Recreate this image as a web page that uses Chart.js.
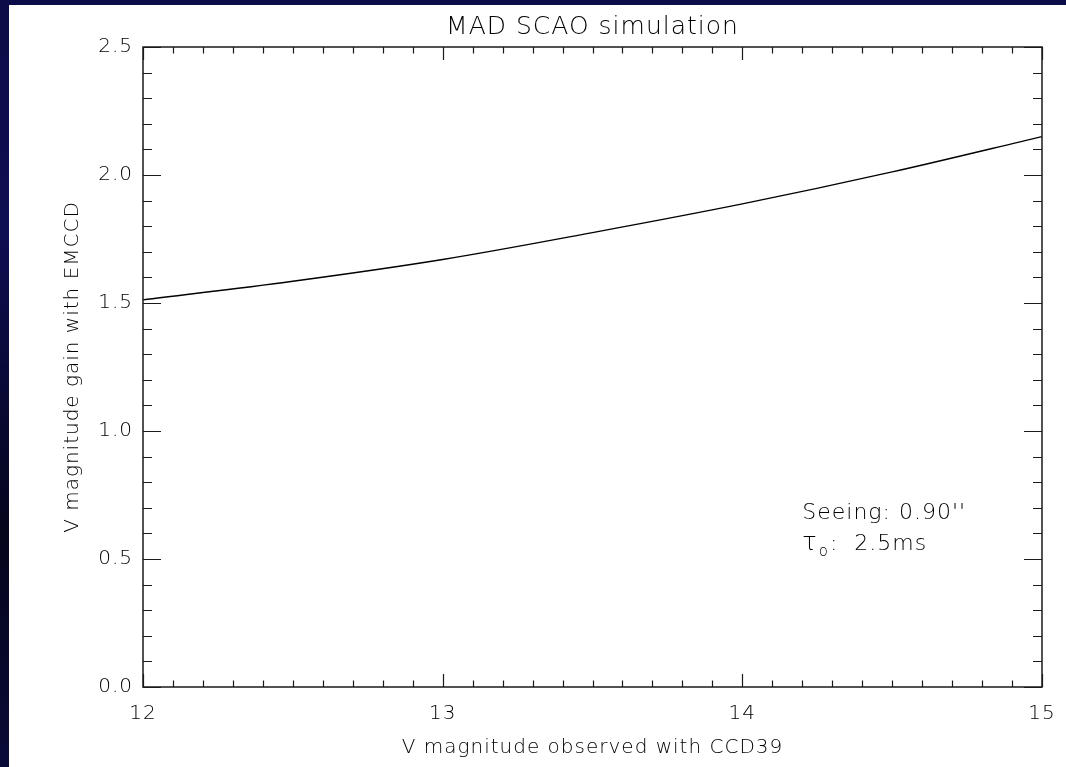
<!DOCTYPE html>
<html>
<head>
<meta charset="utf-8">
<script src="https://cdn.jsdelivr.net/npm/chart.js@4.4.1/dist/chart.umd.min.js"></script>
<style>
  html, body { margin: 0; padding: 0; }
  body {
    width: 1066px; height: 767px; position: relative; overflow: hidden;
    background: linear-gradient(to bottom, #0c0c48 0%, #0e0e52 30%, #05051c 70%, #0a0a38 100%);
  }
  #panel { position: absolute; left: 9px; top: 5px; width: 1057px; height: 762px; background: #ffffff; }
  #chart { position: absolute; left: 0; top: 0; }
</style>
</head>
<body>
<div id="panel"></div>
<canvas id="chart" width="1066" height="767"></canvas>
<script>
// Observed V magnitude with the CCD39 sensor
const magnitudes = [12.0, 12.5, 13.0, 13.5, 14.0, 14.5, 15.0];
// Gain in V magnitude obtained with the EMCCD
const gains = [1.512, 1.585, 1.670, 1.775, 1.887, 2.012, 2.150];
// Axis ranges and tick spacing
const xRange = [12, 15];
const yRange = [0, 2.5];
const xMajorStep = 1, xMinorStep = 0.1;
const yMajorStep = 0.5, yMinorStep = 0.1;
// Annotation anchors (data coordinates)
const seeingText = "Seeing: 0.90''";
const tauText = ": 2.5ms";
const notePos = { x: 14.2, y1: 0.656, y2: 0.535 };

const FONT = "'DejaVu Sans', sans-serif";
const WEIGHT = '200';
const INK = '#000000';
const SPACING = '1px';

// Wide, plotter-like lettering for every label on the canvas
const letterSpacing = {
  id: 'letterSpacing',
  beforeInit(chart) { chart.ctx.letterSpacing = SPACING; },
  beforeUpdate(chart) { chart.ctx.letterSpacing = SPACING; },
  beforeDraw(chart) { chart.ctx.letterSpacing = SPACING; }
};

// IDL-style frame: box on all four sides, inward major and minor ticks
const frameTicks = {
  id: 'frameTicks',
  afterDatasetsDraw(chart) {
    const { ctx, chartArea: a, scales: { x, y } } = chart;
    ctx.save();
    ctx.strokeStyle = '#1a1a1a';
    ctx.lineWidth = 1.5;
    ctx.strokeRect(a.left, a.top, a.right - a.left, a.bottom - a.top);
    ctx.lineWidth = 1.2;
    ctx.beginPath();
    const nx = Math.round((xRange[1] - xRange[0]) / xMinorStep);
    const perX = Math.round(xMajorStep / xMinorStep);
    for (let i = 0; i <= nx; i++) {
      const px = Math.round(x.getPixelForValue(xRange[0] + i * xMinorStep)) + 0.5;
      const len = i % perX === 0 ? 13 : 6.5;
      ctx.moveTo(px, a.bottom); ctx.lineTo(px, a.bottom - len);
      ctx.moveTo(px, a.top); ctx.lineTo(px, a.top + len);
    }
    const ny = Math.round((yRange[1] - yRange[0]) / yMinorStep);
    const perY = Math.round(yMajorStep / yMinorStep);
    for (let i = 0; i <= ny; i++) {
      const py = Math.round(y.getPixelForValue(yRange[0] + i * yMinorStep)) + 0.5;
      const len = i % perY === 0 ? 18 : 9;
      ctx.moveTo(a.left, py); ctx.lineTo(a.left + len, py);
      ctx.moveTo(a.right, py); ctx.lineTo(a.right - len, py);
    }
    ctx.stroke();

    // Observing conditions note
    ctx.fillStyle = INK;
    ctx.textBaseline = 'alphabetic';
    ctx.textAlign = 'left';
    const nx0 = x.getPixelForValue(notePos.x);
    ctx.font = `${WEIGHT} 22px ${FONT}`;
    ctx.fillText(seeingText, nx0, y.getPixelForValue(notePos.y1));
    const by = y.getPixelForValue(notePos.y2);
    ctx.font = `${WEIGHT} 24px ${FONT}`;
    ctx.fillText('\u03C4', nx0, by);
    let cx = nx0 + ctx.measureText('\u03C4').width + 1;
    ctx.font = `${WEIGHT} 15px ${FONT}`;
    ctx.fillText('o', cx, by + 6);
    cx += ctx.measureText('o').width + 1;
    ctx.font = `${WEIGHT} 22px ${FONT}`;
    ctx.fillText(tauText.replace(' ', '  '), cx, by);
    ctx.restore();
  }
};

new Chart(document.getElementById('chart'), {
  type: 'line',
  data: {
    datasets: [{
      data: magnitudes.map((m, i) => ({ x: m, y: gains[i] })),
      borderColor: '#000',
      borderWidth: 1.4,
      pointRadius: 0,
      cubicInterpolationMode: 'monotone',
      fill: false
    }]
  },
  options: {
    responsive: false,
    animation: false,
    devicePixelRatio: 1,
    layout: { padding: { left: 0, right: 24, top: 0, bottom: 0 } },
    plugins: {
      legend: { display: false },
      tooltip: { enabled: false },
      title: {
        display: true,
        fullSize: false,
        text: 'MAD SCAO simulation',
        color: INK,
        font: { family: FONT, size: 25, weight: WEIGHT, lineHeight: 1.2 },
        padding: { top: 12, bottom: 5 }
      }
    },
    scales: {
      x: {
        type: 'linear',
        min: xRange[0], max: xRange[1],
        grid: { display: false, drawTicks: false },
        border: { display: false },
        ticks: {
          stepSize: xMajorStep,
          color: INK,
          padding: 15,
          font: { family: FONT, size: 20, weight: WEIGHT },
          callback: v => String(v)
        },
        title: {
          display: true,
          text: 'V magnitude observed with CCD39',
          color: INK,
          font: { family: FONT, size: 20, weight: WEIGHT, lineHeight: 1.2 },
          padding: { top: 0, bottom: 7 }
        },
        afterFit: s => { s.height = 80; s.paddingLeft = 0; s.paddingRight = 0; }
      },
      y: {
        min: yRange[0], max: yRange[1],
        grid: { display: false, drawTicks: false },
        border: { display: false },
        ticks: {
          stepSize: yMajorStep,
          color: INK,
          padding: 10,
          font: { family: FONT, size: 20, weight: WEIGHT },
          callback: v => Number(v).toFixed(1)
        },
        title: {
          display: true,
          text: 'V magnitude gain with EMCCD',
          color: INK,
          font: { family: FONT, size: 20, weight: WEIGHT, lineHeight: 1.2 },
          padding: { top: 61, bottom: 0 }
        },
        afterFit: s => { s.width = 143; s.paddingTop = 0; s.paddingBottom = 0; }
      }
    }
  },
  plugins: [letterSpacing, frameTicks]
});
</script>
</body>
</html>
